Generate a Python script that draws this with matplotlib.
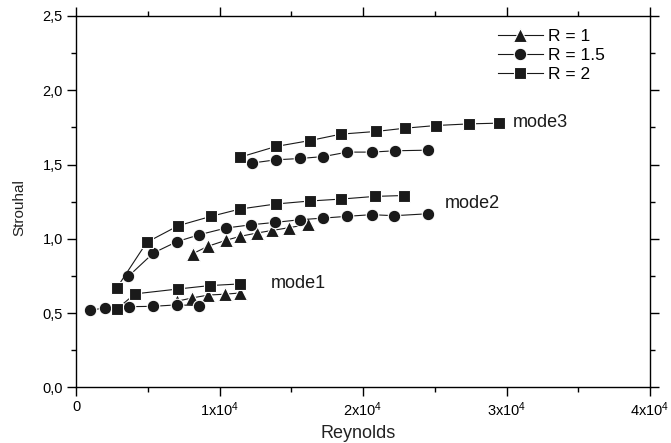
import matplotlib
matplotlib.use("Agg")
import matplotlib.pyplot as pyplot
import matplotlib.ticker as ticker


pyplot.rcParams["font.family"] = ["Liberation Sans", "DejaVu Sans"]
pyplot.rcParams["mathtext.fontset"] = "custom"
pyplot.rcParams["mathtext.rm"] = "Liberation Sans"

# R = 1 (triangles)
reR1Mode1 = [7020, 8110, 9220, 10400, 11430]
stR1Mode1 = [0.580, 0.603, 0.622, 0.628, 0.636]
reR1Mode2 = [8130, 9180, 10430, 11430, 12640, 13680, 14820, 16190]
stR1Mode2 = [0.900, 0.950, 0.990, 1.017, 1.040, 1.057, 1.075, 1.098]

# R = 1.5 (circles)
reR15Mode1 = [980, 2020, 3670, 5350, 7020, 8570]
stR15Mode1 = [0.519, 0.536, 0.544, 0.546, 0.556, 0.551]
reR15Mode2 = [3650, 5390, 7020, 8590, 10450, 12200, 13870, 15610,
              17240, 18910, 20600, 22180, 24510]
stR15Mode2 = [0.748, 0.905, 0.981, 1.028, 1.073, 1.095, 1.111, 1.129,
              1.140, 1.152, 1.163, 1.156, 1.169]
reR15Mode3 = [12240, 13910, 15610, 17240, 18910, 20610, 22230, 24510]
stR15Mode3 = [1.510, 1.532, 1.541, 1.554, 1.584, 1.584, 1.593, 1.597]

# R = 2 (squares)
reR2Mode1 = [2840, 4110, 7130, 9340, 11430]
stR2Mode1 = [0.528, 0.630, 0.663, 0.686, 0.697]
reR2Mode2 = [2840, 4930, 7130, 9380, 11430, 13940, 16310, 18470, 20840, 22880]
stR2Mode2 = [0.670, 0.977, 1.089, 1.151, 1.201, 1.235, 1.255, 1.268, 1.286, 1.292]
reR2Mode3 = [11430, 13940, 16310, 18470, 20910, 22930, 25090, 27410, 29500]
stR2Mode3 = [1.550, 1.622, 1.662, 1.705, 1.723, 1.745, 1.763, 1.774, 1.779]

seriesLabels = ["R = 1", "R = 1.5", "R = 2"]
seriesMarkers = ["^", "o", "s"]
seriesData = [
    [(reR1Mode1, stR1Mode1), (reR1Mode2, stR1Mode2)],
    [(reR15Mode1, stR15Mode1), (reR15Mode2, stR15Mode2), (reR15Mode3, stR15Mode3)],
    [(reR2Mode1, stR2Mode1), (reR2Mode2, stR2Mode2), (reR2Mode3, stR2Mode3)],
]

modeNames = ["mode1", "mode2", "mode3"]
modeRe = [13600, 25700, 30430]
modeSt = [0.670, 1.208, 1.756]

xTicks = [0, 10000, 20000, 30000, 40000]
xTickLabels = ["0"] + [r"$\mathregular{%dx10^{4}}$" % k for k in range(1, 5)]

markColor = "#1a1a1a"

figure = pyplot.figure(figsize=(6.71, 4.43), dpi=100)
axes = figure.add_axes([0.1133, 0.1253, 0.8554, 0.8386])

for label, marker, segments in zip(seriesLabels, seriesMarkers, seriesData):
    size = 9.5 if marker == "^" else 9.0
    for index, (re, st) in enumerate(segments):
        axes.plot(
            re, st,
            color=markColor,
            linewidth=0.8,
            marker=marker,
            markersize=size,
            markerfacecolor=markColor,
            markeredgecolor="white",
            markeredgewidth=0.8,
            label=label if index == 0 else None
        )

for name, re, st in zip(modeNames, modeRe, modeSt):
    axes.text(re, st, name, fontsize=13, ha="left", va="baseline", color="#1a1a1a")

axes.set_xlim(0, 40000)
axes.set_ylim(0.0, 2.5)

axes.set_xticks(xTicks)
axes.set_xticklabels(xTickLabels)
axes.xaxis.set_minor_locator(ticker.MultipleLocator(5000))
axes.yaxis.set_major_locator(ticker.MultipleLocator(0.5))
axes.yaxis.set_minor_locator(ticker.MultipleLocator(0.25))
axes.yaxis.set_major_formatter(
    ticker.FuncFormatter(lambda v, pos: ("%.1f" % v).replace(".", ","))
)

axes.tick_params(which="both", direction="out", top=True, right=True,
                 width=1.0, color="black")
axes.tick_params(which="major", length=6.5, labelsize=10.5)
axes.tick_params(which="minor", length=3.5)
axes.tick_params(axis="x", which="major", pad=2.5)
axes.tick_params(axis="y", which="major", pad=3.0)

for spine in axes.spines.values():
    spine.set_linewidth(1.0)
    spine.set_color("black")

axes.set_xlabel("Reynolds", fontsize=13, color="#222222")
axes.set_ylabel("Strouhal", fontsize=11, color="#222222")
axes.xaxis.set_label_coords(0.491, -0.1225, transform=axes.transAxes)
axes.xaxis.label.set_verticalalignment("center")
axes.yaxis.set_label_coords(-0.099, 0.483, transform=axes.transAxes)
axes.yaxis.label.set_verticalalignment("center")

axes.legend(
    loc="upper left",
    bbox_to_anchor=(0.7347, 0.966),
    frameon=False,
    fontsize=12.5,
    handlelength=2.6,
    handletextpad=0.3,
    labelspacing=0.22,
    borderpad=0.0,
    borderaxespad=0.0,
)

figure.savefig("out.png", dpi=100)
